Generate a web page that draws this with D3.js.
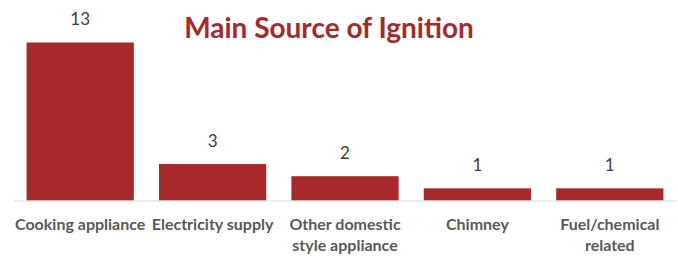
<!DOCTYPE html>
<html>
<head>
<meta charset="utf-8">
<script src="https://cdn.jsdelivr.net/npm/d3@7"></script>
<style>
    body { margin: 0; background: #fff; }
    svg { display: block; }
    text { font-variant-ligatures: none; }
</style>
</head>
<body>
<div id="chart"></div>
<script>
// chart data
const categories = [
    ['Cooking appliance'],
    ['Electricity supply'],
    ['Other domestic', 'style appliance'],
    ['Chimney'],
    ['Fuel/chemical', 'related'],
];
const values = [13, 3, 2, 1, 1];
const title = 'Main Source of Ignition';

const width = 678;
const height = 258;
const barColor = '#a8292b';
const fontFamily = 'Lato, "Open Sans", sans-serif';

const svg = d3
    .select('#chart')
    .append('svg')
    .attr('width', width)
    .attr('height', height);

const x = d3
    .scaleBand()
    .domain(d3.range(values.length))
    .range([14, 676])
    .paddingInner(0.19)
    .paddingOuter(0.095);

const y = d3.scaleLinear().domain([0, 13]).range([200.5, 42.5]);

// bars
svg.append('g')
    .selectAll('rect')
    .data(values)
    .join('rect')
    .attr('x', (d, i) => x(i))
    .attr('y', d => y(d))
    .attr('width', x.bandwidth())
    .attr('height', d => y(0) - y(d))
    .attr('fill', barColor);

// baseline
svg.append('line')
    .attr('x1', 14)
    .attr('x2', 676)
    .attr('y1', y(0) + 0.5)
    .attr('y2', y(0) + 0.5)
    .attr('stroke', '#d9d9d9')
    .attr('stroke-width', 1);

// value labels
svg.append('g')
    .selectAll('text')
    .data(values)
    .join('text')
    .attr('x', (d, i) => x(i) + x.bandwidth() / 2)
    .attr('y', d => y(d) - 17.5)
    .attr('text-anchor', 'middle')
    .style('font', `17px ${fontFamily}`)
    .attr('fill', '#404040')
    .text(d => d);

// category labels
const catLabels = svg
    .append('g')
    .selectAll('text')
    .data(categories)
    .join('text')
    .attr('x', (d, i) => x(i) + x.bandwidth() / 2)
    .attr('y', 229.5)
    .attr('text-anchor', 'middle')
    .style('font', `bold 16px ${fontFamily}`)
    .attr('fill', '#595959');

catLabels
    .selectAll('tspan')
    .data(d => d)
    .join('tspan')
    .attr('x', function () {
        return d3.select(this.parentNode).attr('x');
    })
    .attr('dy', (d, i) => (i === 0 ? 0 : 21))
    .text(d => d);

// title
svg.append('text')
    .attr('x', 329)
    .attr('y', 38)
    .attr('text-anchor', 'middle')
    .style('font', `bold 28px ${fontFamily}`)
    .attr('fill', '#a8292b')
    .text(title);
</script>
</body>
</html>
